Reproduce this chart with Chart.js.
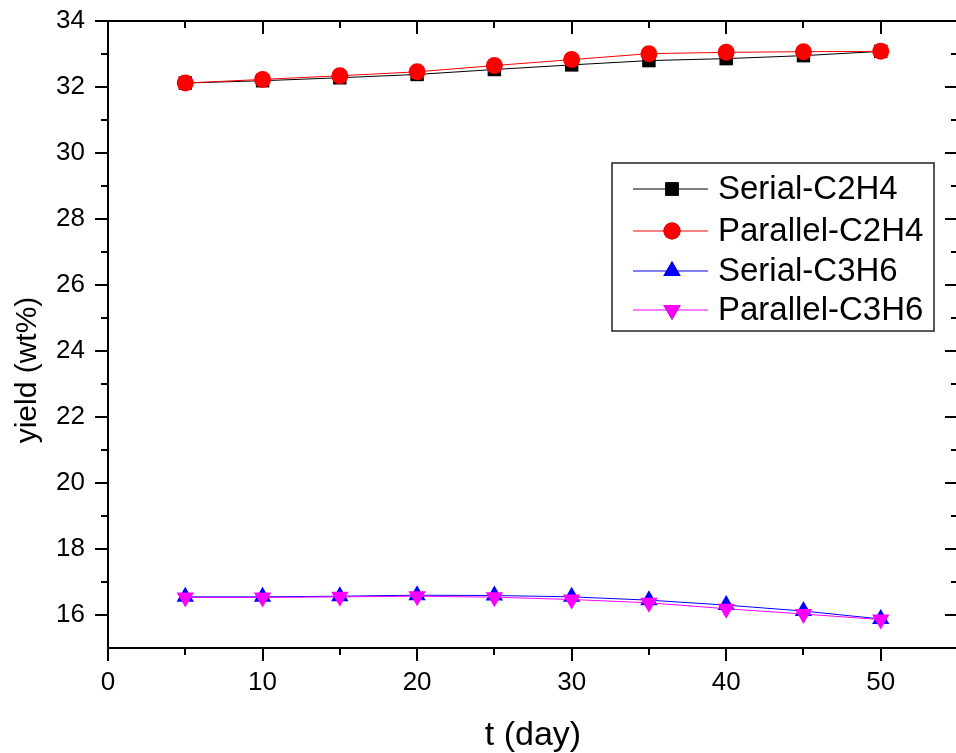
<!DOCTYPE html>
<html>
<head>
<meta charset="utf-8">
<script src="https://cdn.jsdelivr.net/npm/chart.js@4"></script>
<style>
html, body { margin: 0; padding: 0; background: #fff; overflow: hidden; }
#wrap { width: 956px; height: 753px; overflow: hidden; }
</style>
</head>
<body>
<div id="wrap"><canvas id="myChart" width="960" height="753"></canvas></div>
<script>
var days = [5, 10, 15, 20, 25, 30, 35, 40, 45, 50];
var serialC2H4 = [32.12, 32.19, 32.28, 32.38, 32.53, 32.67, 32.80, 32.86, 32.95, 33.08];
var parallelC2H4 = [32.12, 32.23, 32.34, 32.46, 32.65, 32.83, 33.01, 33.05, 33.07, 33.08];
var serialC3H6 = [16.55, 16.55, 16.57, 16.60, 16.59, 16.55, 16.45, 16.30, 16.12, 15.88];
var parallelC3H6 = [16.53, 16.53, 16.55, 16.57, 16.54, 16.47, 16.37, 16.19, 16.03, 15.86];
var xTicks = [0, 10, 20, 30, 40, 50];
var yTicks = [16, 18, 20, 22, 24, 26, 28, 30, 32, 34];

var FONT = "'Liberation Sans', Arial, sans-serif";

function pts(ys) {
    return days.map(function (d, i) { return { x: d, y: ys[i] }; });
}

// box, inner/outer ticks, y title and legend
var frameTicks = {
    id: 'frameTicks',
    afterDraw: function (chart) {
        var ctx = chart.ctx, a = chart.chartArea;
        var xs = chart.scales.x, ys = chart.scales.y;
        ctx.save();
        ctx.strokeStyle = '#000';
        ctx.lineWidth = 2;
        ctx.strokeRect(a.left, a.top, a.right - a.left, a.bottom - a.top);
        ctx.beginPath();
        for (var v = 0; v <= 55; v += 5) {
            var px = Math.round(xs.getPixelForValue(v));
            var len = v % 10 === 0 ? 13 : 7;
            ctx.moveTo(px, a.bottom); ctx.lineTo(px, a.bottom + len);
            ctx.moveTo(px, a.top); ctx.lineTo(px, a.top + len);
        }
        for (var w = 16; w <= 34; w++) {
            var py = Math.round(ys.getPixelForValue(w));
            var l2 = w % 2 === 0 ? 13 : 7;
            ctx.moveTo(a.left, py); ctx.lineTo(a.left - l2, py);
            ctx.moveTo(a.right, py); ctx.lineTo(a.right - l2, py);
        }
        ctx.stroke();

        // y title
        ctx.save();
        ctx.translate(28, 370);
        ctx.rotate(-Math.PI / 2);
        ctx.fillStyle = '#000';
        ctx.font = '30px ' + FONT;
        ctx.textAlign = 'center';
        ctx.textBaseline = 'middle';
        ctx.fillText('yield (wt%)', 0, 0);
        ctx.restore();

        // legend
        var lx = 612, ly = 163, lw = 322, lh = 168;
        ctx.lineWidth = 1.5;
        ctx.strokeStyle = '#222';
        ctx.strokeRect(lx, ly, lw, lh);
        var rows = [189, 231, 271, 310];
        chart.data.datasets.forEach(function (ds, i) {
            var y = rows[i];
            ctx.strokeStyle = ds.borderColor;
            ctx.lineWidth = 1;
            ctx.beginPath();
            ctx.moveTo(633, y); ctx.lineTo(708, y);
            ctx.stroke();
            Chart.helpers.drawPoint(ctx, {
                pointStyle: ds.pointStyle,
                rotation: ds.pointRotation || 0,
                radius: ds.pointRadius,
                borderWidth: 0
            }, 672, y);
            ctx.fillStyle = ds.pointBackgroundColor;
            ctx.fill();
            ctx.fillStyle = '#000';
            ctx.font = '33px ' + FONT;
            ctx.textAlign = 'left';
            ctx.textBaseline = 'middle';
            ctx.fillText(ds.label, 718, y + 1);
        });
        ctx.restore();
    }
};

var ctx = document.getElementById('myChart').getContext('2d');
var myChart = new Chart(ctx, {
    type: 'line',
    data: {
        datasets: [{
            label: 'Serial-C2H4',
            data: pts(serialC2H4),
            borderColor: '#000000',
            pointBackgroundColor: '#000000',
            pointStyle: 'rect',
            pointRadius: 9.5,
            order: 4
        }, {
            label: 'Parallel-C2H4',
            data: pts(parallelC2H4),
            borderColor: '#ff0000',
            pointBackgroundColor: '#ff0000',
            pointStyle: 'circle',
            pointRadius: 8.5,
            order: 3
        }, {
            label: 'Serial-C3H6',
            data: pts(serialC3H6),
            borderColor: '#0000ff',
            pointBackgroundColor: '#0000ff',
            pointStyle: 'triangle',
            pointRadius: 10,
            order: 2
        }, {
            label: 'Parallel-C3H6',
            data: pts(parallelC3H6),
            borderColor: '#ff00ff',
            pointBackgroundColor: '#ff00ff',
            pointStyle: 'triangle',
            pointRotation: 180,
            pointRadius: 10,
            order: 1
        }]
    },
    options: {
        responsive: false,
        animation: false,
        elements: {
            line: { borderWidth: 1, tension: 0, fill: false },
            point: { borderWidth: 0, hoverRadius: 8 }
        },
        layout: { autoPadding: false, padding: { top: 21, right: 2, left: 0, bottom: 0 } },
        plugins: {
            legend: { display: false },
            tooltip: { enabled: false }
        },
        scales: {
            x: {
                type: 'linear',
                min: 0,
                max: 55,
                afterBuildTicks: function (s) { s.ticks = xTicks.map(function (v) { return { value: v }; }); },
                afterFit: function (s) {
                    s.height = 105;
                    s.paddingLeft = 0; s.paddingRight = 0;
                },
                grid: { display: false, drawTicks: false },
                border: { display: false },
                ticks: { color: '#000', padding: 19, maxRotation: 0, font: { family: FONT, size: 26 } },
                title: {
                    display: true,
                    text: 't (day)',
                    color: '#000',
                    padding: { top: 0, bottom: 0 },
                    font: { family: FONT, size: 34, lineHeight: 1.0 }
                }
            },
            y: {
                min: 15,
                max: 34,
                afterBuildTicks: function (s) { s.ticks = yTicks.map(function (v) { return { value: v }; }); },
                afterFit: function (s) {
                    s.width = 108;
                    s.paddingTop = 0; s.paddingBottom = 0;
                },
                grid: { display: false, drawTicks: false },
                border: { display: false },
                ticks: { color: '#000', padding: 23, font: { family: FONT, size: 26 } }
            }
        }
    },
    plugins: [frameTicks]
});
</script>
</body>
</html>
